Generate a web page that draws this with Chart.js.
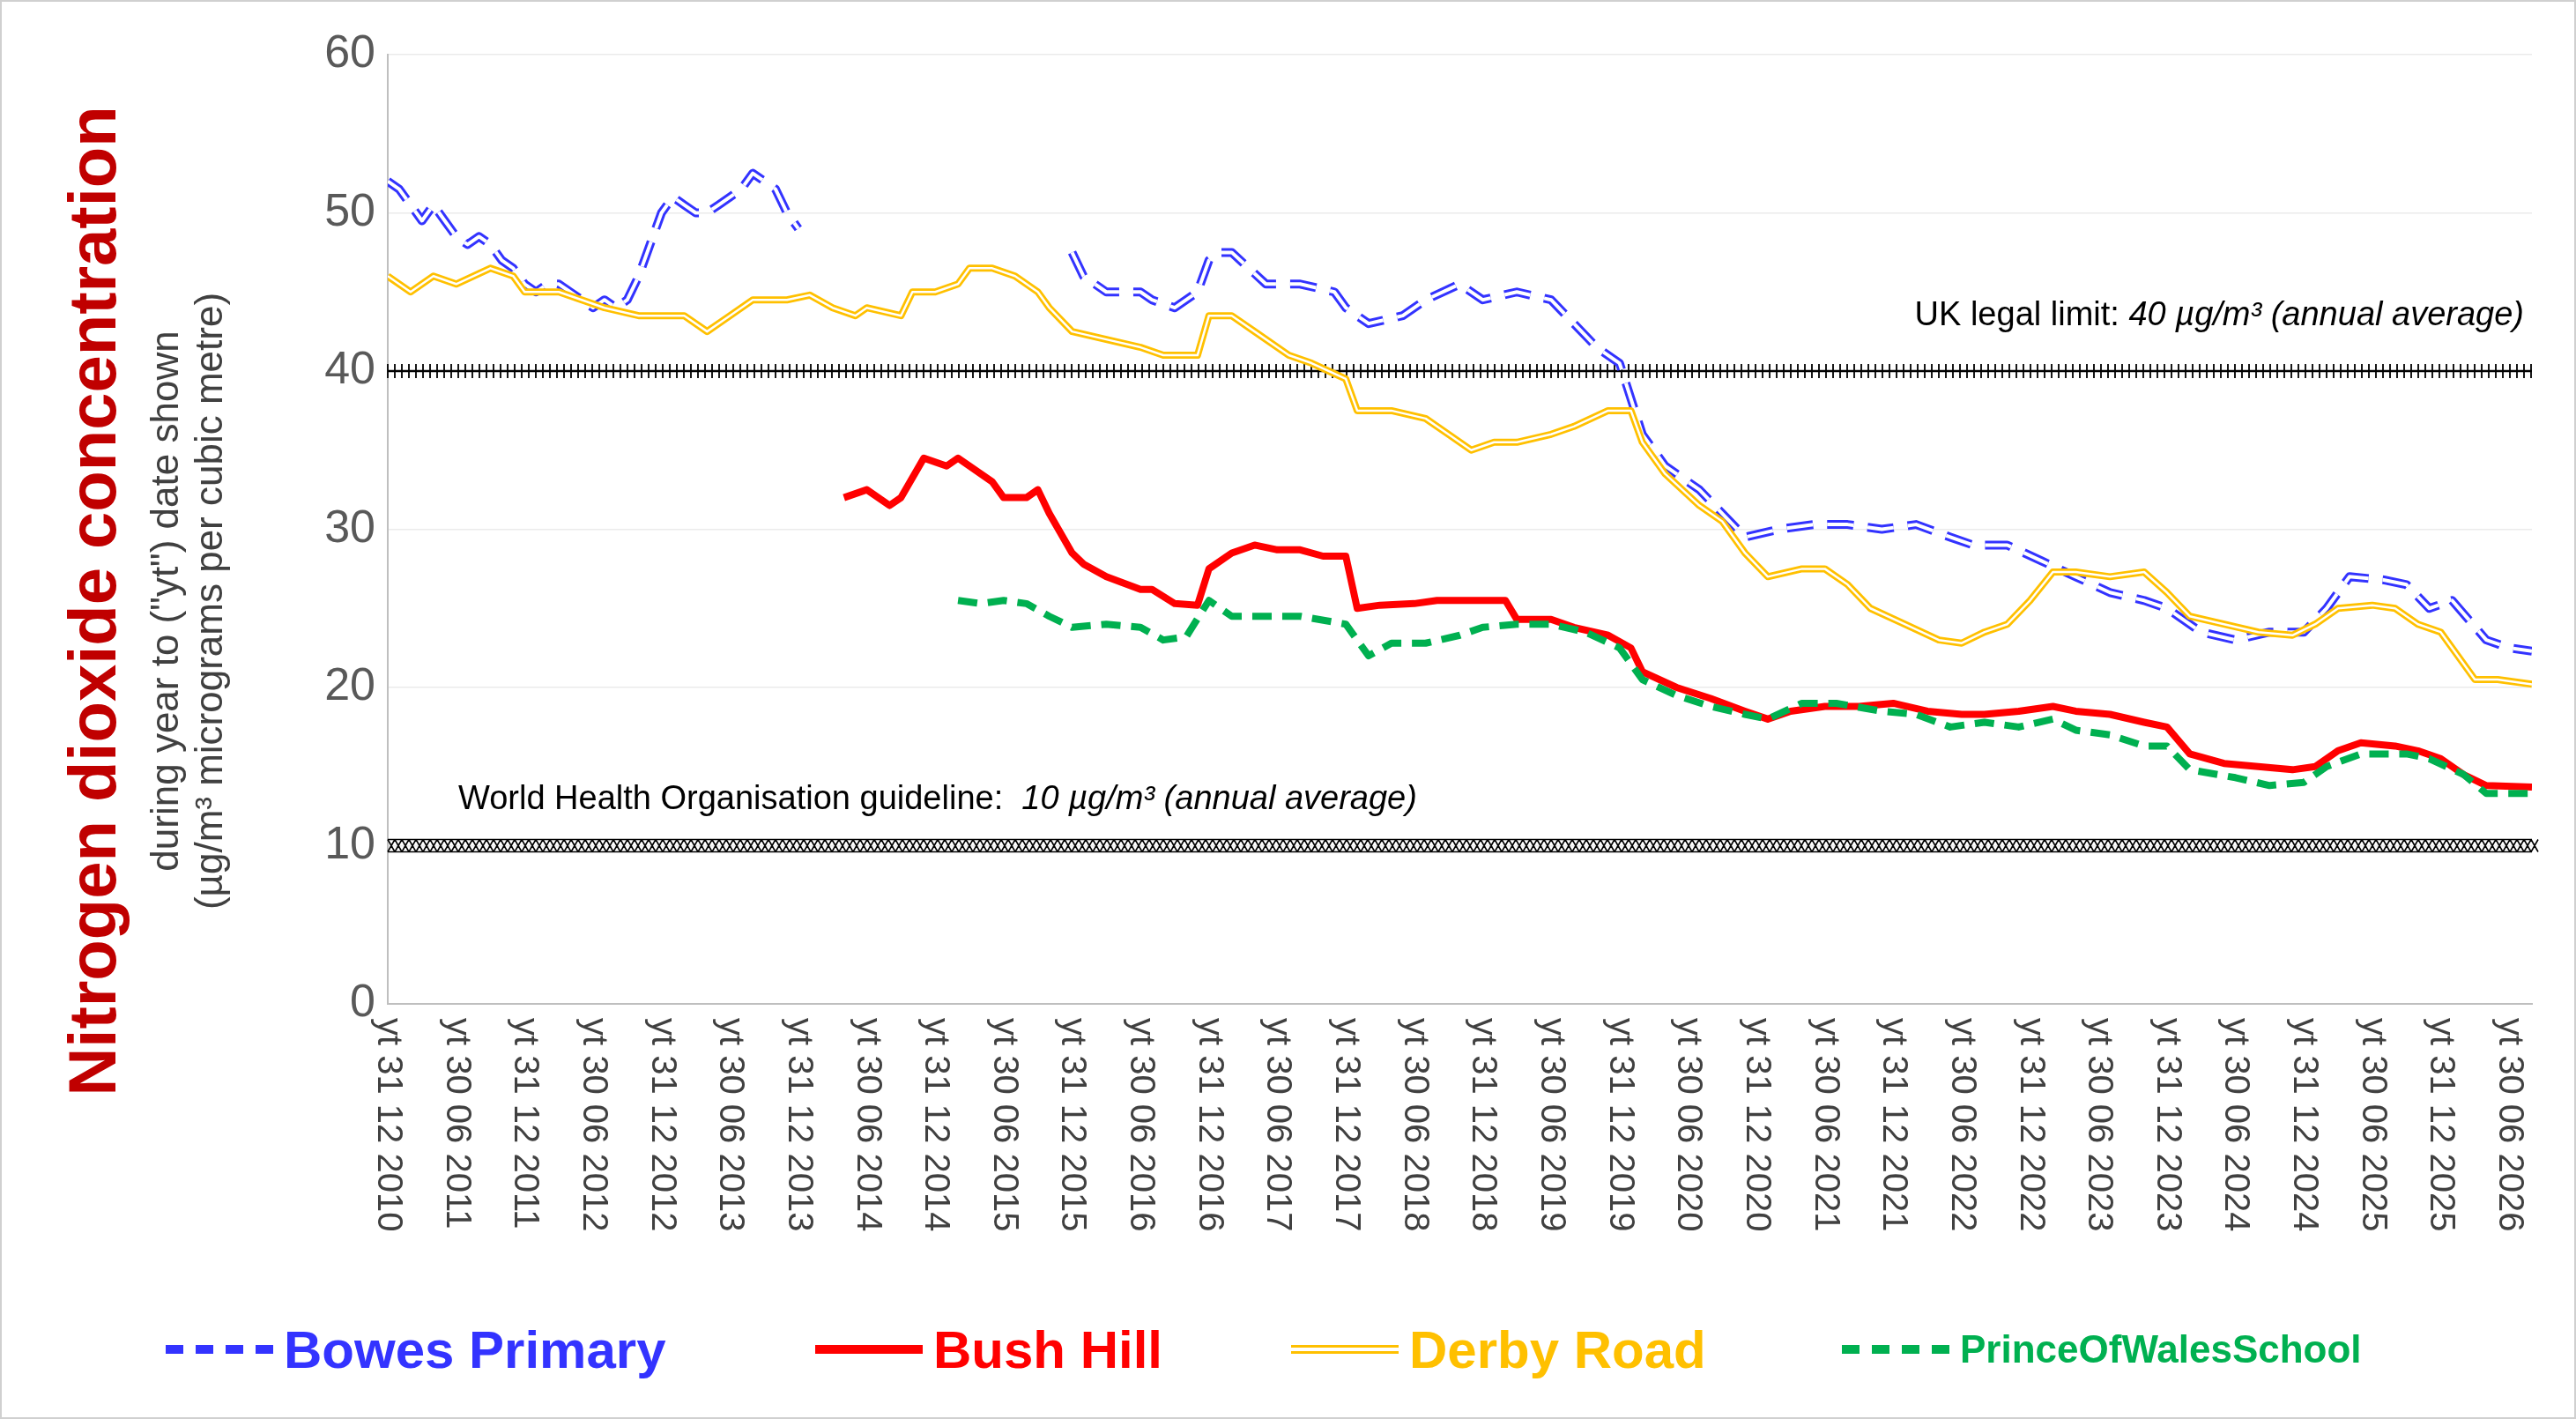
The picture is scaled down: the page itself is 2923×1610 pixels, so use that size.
<!DOCTYPE html>
<html><head><meta charset="utf-8">
<script src="https://cdn.jsdelivr.net/npm/chart.js@4"></script>
<style>
html,body{margin:0;padding:0;background:#fff;}
#wrap{position:relative;width:2923px;height:1610px;box-sizing:border-box;border:2px solid #D0D0D0;}
canvas{position:absolute;left:0;top:0;}
.lg{position:absolute;top:1494px;font-family:Arial,"Liberation Sans",sans-serif;font-weight:bold;display:flex;align-items:center;height:70px;}
.sw{display:inline-block;width:122px;height:0;margin-right:12px;}
</style></head><body>
<div id="wrap"><canvas id="c" width="2923" height="1610"></canvas>
<div class="lg" style="left:186px;color:#3333FF;font-size:60px;"><span class="sw" style="border-top:10px dashed #3333FF;"></span>Bowes Primary</div>
<div class="lg" style="left:923px;color:#FF0000;font-size:60px;"><span class="sw" style="border-top:10px solid #FF0000;"></span>Bush Hill</div>
<div class="lg" style="left:1463px;color:#FFC000;font-size:60px;"><span class="sw" style="border-top:10px double #FFC000;"></span>Derby Road</div>
<div class="lg" style="left:2088px;color:#00B050;font-size:44px;"><span class="sw" style="border-top:10px dashed #00B050;"></span>PrinceOfWalesSchool</div>
</div>
<script>
const xLabels=["yt 31 12 2010","yt 30 06 2011","yt 31 12 2011","yt 30 06 2012","yt 31 12 2012","yt 30 06 2013","yt 31 12 2013","yt 30 06 2014","yt 31 12 2014","yt 30 06 2015","yt 31 12 2015","yt 30 06 2016","yt 31 12 2016","yt 30 06 2017","yt 31 12 2017","yt 30 06 2018","yt 31 12 2018","yt 30 06 2019","yt 31 12 2019","yt 30 06 2020","yt 31 12 2020","yt 30 06 2021","yt 31 12 2021","yt 30 06 2022","yt 31 12 2022","yt 30 06 2023","yt 31 12 2023","yt 30 06 2024","yt 31 12 2024","yt 30 06 2025","yt 31 12 2025","yt 30 06 2026"];
const yTicks=[0,10,20,30,40,50,60];
// [month index from Dec 2010, value]
const bowesA=[[0,52],[1,51.5],[2,50.5],[3,49.5],[4,50.5],[5,49.5],[6,48.5],[7,48],[8,48.5],[9,48],[10,47],[11,46.5],[12,45.5],[13,45],[14,45.5],[15,45.5],[16,45],[17,44.5],[18,44],[19,44.5],[20,44],[21,44.5],[22,46],[23,48],[24,50],[25,51],[26,50.5],[27,50],[28,50],[29,50.5],[30,51],[31,51.5],[32,52.5],[33,52],[34,51.5],[35,50],[36,49]];
const bowesB=[[60,47.5],[61,46],[63,45],[66,45],[67,44.5],[69,44],[71,45],[72,47],[73,47.5],[74,47.5],[77,45.5],[80,45.5],[83,45],[84,44],[86,43],[89,43.5],[91,44.5],[94,45.5],[96,44.5],[99,45],[102,44.5],[104,43],[106,41.5],[108,40.5],[110,36],[112,34],[115,32.5],[117,31],[119,29.5],[122,30],[125,30.3],[128,30.3],[131,30],[134,30.3],[137,29.5],[139,29],[142,29],[145,28],[148,27],[151,26],[154,25.5],[156,25],[159,23.5],[162,23],[165,23.5],[168,23.5],[170,25],[172,27],[175,26.8],[177,26.5],[179,25],[181,25.5],[184,23],[186,22.5],[188,22.3]];
const bowesValues=bowesA.concat([[48,null]],bowesB);
const derbyValues=[[0,46],[2,45],[4,46],[6,45.5],[9,46.5],[11,46],[12,45],[15,45],[17,44.5],[19,44],[22,43.5],[24,43.5],[26,43.5],[28,42.5],[30,43.5],[32,44.5],[35,44.5],[37,44.8],[39,44],[41,43.5],[42,44],[45,43.5],[46,45],[48,45],[50,45.5],[51,46.5],[53,46.5],[55,46],[57,45],[58,44],[60,42.5],[63,42],[66,41.5],[68,41],[71,41],[72,43.5],[74,43.5],[76,42.5],[79,41],[81,40.5],[84,39.5],[85,37.5],[88,37.5],[91,37],[93,36],[95,35],[97,35.5],[99,35.5],[102,36],[104,36.5],[107,37.5],[109,37.5],[110,35.5],[112,33.5],[115,31.5],[117,30.5],[119,28.5],[121,27],[124,27.5],[126,27.5],[128,26.5],[130,25],[133,24],[136,23],[138,22.8],[140,23.5],[142,24],[144,25.5],[146,27.3],[148,27.3],[151,27],[154,27.3],[156,26],[158,24.5],[161,24],[164,23.5],[167,23.3],[169,24],[171,25],[174,25.2],[176,25],[178,24],[180,23.5],[183,20.5],[185,20.5],[188,20.2]];
const bushValues=[[40,32],[42,32.5],[44,31.5],[45,32],[47,34.5],[49,34],[50,34.5],[53,33],[54,32],[56,32],[57,32.5],[58,31],[60,28.5],[61,27.8],[63,27],[66,26.2],[67,26.2],[69,25.3],[71,25.2],[72,27.5],[74,28.5],[76,29],[78,28.7],[80,28.7],[82,28.3],[84,28.3],[85,25],[87,25.2],[90,25.3],[92,25.5],[95,25.5],[98,25.5],[99,24.3],[102,24.3],[104,23.8],[107,23.3],[109,22.5],[110,21],[113,20],[116,19.3],[119,18.5],[121,18],[123,18.5],[126,18.8],[129,18.8],[132,19],[135,18.5],[138,18.3],[140,18.3],[143,18.5],[146,18.8],[148,18.5],[151,18.3],[154,17.8],[156,17.5],[158,15.8],[161,15.2],[164,15],[167,14.8],[169,15],[171,16],[173,16.5],[176,16.3],[178,16],[180,15.5],[182,14.5],[184,13.8],[188,13.7]];
const princeValues=[[50,25.5],[52,25.3],[54,25.5],[56,25.3],[58,24.5],[60,23.8],[63,24],[66,23.8],[68,23],[70,23.2],[72,25.5],[74,24.5],[77,24.5],[80,24.5],[84,24],[86,22],[88,22.8],[91,22.8],[94,23.3],[96,23.8],[99,24],[102,24],[105,23.5],[108,22.5],[110,20.5],[113,19.5],[116,18.8],[119,18.3],[121,18],[124,19],[127,19],[131,18.5],[134,18.3],[137,17.5],[140,17.8],[143,17.5],[146,18],[148,17.3],[151,17],[154,16.3],[156,16.3],[158,14.8],[162,14.3],[165,13.8],[168,14],[170,15],[173,15.8],[177,15.8],[179,15.5],[182,14.5],[184,13.3],[188,13.3]];
const pts=a=>a.map(p=>({x:p[0],y:p[1]}));
const FONT='Arial, "Liberation Sans", sans-serif';
const refPlugin={id:'ref',
 beforeDatasetsDraw(ch){const c=ch.ctx,a=ch.chartArea,y=ch.scales.y;
  c.save();
  let y40=y.getPixelForValue(40);
  c.strokeStyle='#000';c.lineWidth=2.5;c.beginPath();c.moveTo(a.left,y40);c.lineTo(a.right,y40);c.stroke();
  c.lineWidth=1.8;c.beginPath();for(let px=a.left;px<a.right;px+=8){c.moveTo(px,y40-8);c.lineTo(px,y40+8);}c.stroke();
  let y10=y.getPixelForValue(10);
  c.lineWidth=1.6;c.beginPath();for(let px=a.left;px<a.right;px+=8){c.moveTo(px,y10-7);c.lineTo(px+8,y10+7);c.moveTo(px+8,y10-7);c.lineTo(px,y10+7);}c.stroke();
  c.beginPath();c.moveTo(a.left,y10-7);c.lineTo(a.right,y10-7);c.moveTo(a.left,y10+7);c.lineTo(a.right,y10+7);c.stroke();
  c.fillStyle='#000';c.textBaseline='middle';
  let t2='40 µg/m³ (annual average)';c.font='italic 38px '+FONT;let w2=c.measureText(t2).width;
  c.textAlign='right';c.fillText(t2,2862,y.getPixelForValue(43.5));
  c.font='38px '+FONT;c.fillText('UK legal limit: ',2862-w2,y.getPixelForValue(43.5));
  c.textAlign='left';let t1='World Health Organisation guideline:  ';
  c.fillText(t1,518,y.getPixelForValue(12.9));let w1=c.measureText(t1).width;
  c.font='italic 38px '+FONT;c.fillText('10 µg/m³ (annual average)',518+w1,y.getPixelForValue(12.9));
  c.restore();},
 afterDraw(ch){const c=ch.ctx,a=ch.chartArea,x=ch.scales.x;
  c.save();c.fillStyle='#404040';c.font='40px '+FONT;c.textAlign='left';c.textBaseline='middle';
  xLabels.forEach((l,i)=>{const px=x.getPixelForValue(i*6);c.save();c.translate(px,a.bottom+16);c.rotate(Math.PI/2);c.fillText(l,0,0);c.restore();});
  c.translate(0,680);c.rotate(-Math.PI/2);c.textAlign='center';
  c.fillStyle='#C00000';c.font='bold 76px '+FONT;c.fillText('Nitrogen dioxide concentration',0,108);
  c.fillStyle='#404040';c.font='44px '+FONT;c.fillText('during year to ("yt") date shown',0,188);
  c.fillText('(µg/m³ micrograms per cubic metre)',0,238);
  c.restore();}
};
new Chart(document.getElementById('c'),{type:'line',
 data:{datasets:[
  {data:pts(bowesValues),borderColor:'#3333FF',borderWidth:10,borderDash:[30,16],order:8,spanGaps:false},
  {data:pts(bowesValues),borderColor:'#fff',borderWidth:4,borderDash:[30,16],order:7,spanGaps:false},
  {data:pts(derbyValues),borderColor:'#FFC000',borderWidth:8,order:6},
  {data:pts(derbyValues),borderColor:'#fff',borderWidth:2.5,order:5},
  {data:pts(bushValues),borderColor:'#FF0000',borderWidth:8,order:3},
  {data:pts(princeValues),borderColor:'#00B050',borderWidth:8,borderDash:[22,12],order:2}
 ]},
 options:{responsive:false,animation:false,
  elements:{point:{radius:0},line:{tension:0,borderCapStyle:'butt',borderJoinStyle:'round'}},
  layout:{padding:{left:318,top:60,right:52,bottom:0}},
  plugins:{legend:{display:false},tooltip:{enabled:false}},
  scales:{
   x:{type:'linear',min:0,max:188,ticks:{stepSize:6,display:false},grid:{display:false},border:{color:'#BFBFBF',width:2},
      afterFit(s){s.height=473;}},
   y:{min:0,max:60,ticks:{stepSize:10,color:'#595959',font:{size:52,family:FONT},padding:14,callback:v=>yTicks.includes(v)?String(v):''},
      grid:{color:'#EBEBEB',lineWidth:1.5,drawTicks:false},border:{display:true,color:'#BFBFBF',width:2},afterFit(s){s.width=120;}}
  }},
 plugins:[refPlugin]});
</script></body></html>
